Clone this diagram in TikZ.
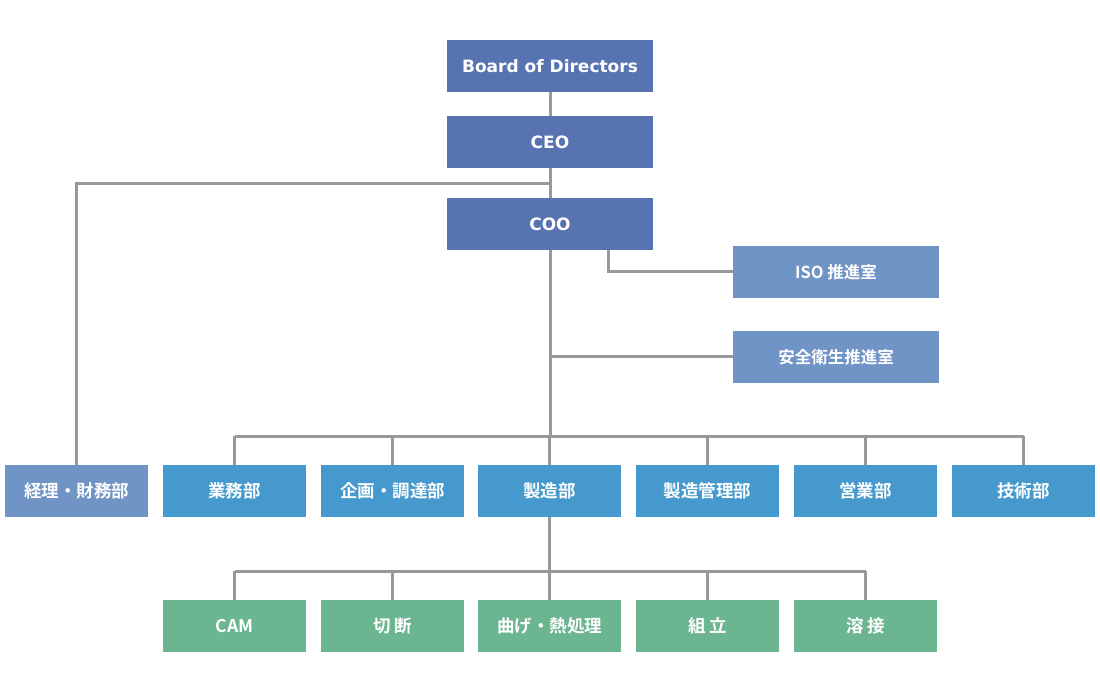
\documentclass[tikz,border=0pt]{standalone}
\usepackage{fontspec}
\setmainfont{DejaVu Sans}
\newfontfamily\jpfont{Noto Sans CJK JP}[BoldFont={Noto Sans CJK JP Bold}]

\definecolor{execblue}{HTML}{5773B2}
\definecolor{officeblue}{HTML}{7094C6}
\definecolor{deptblue}{HTML}{4599CC}
\definecolor{sectgreen}{HTML}{6BB590}
\definecolor{linkgray}{HTML}{999999}

\begin{document}
\begin{tikzpicture}[x=1pt,y=-1pt,
  execbox/.style={fill=execblue,text=white,minimum width=206pt,minimum height=52pt,inner sep=0pt,font=\fontsize{17}{20}\selectfont\bfseries},
  officebox/.style={fill=officeblue,text=white,minimum width=206pt,minimum height=52pt,inner sep=0pt,font=\jpfont\fontsize{16.5}{19}\selectfont\bfseries},
  deptbox/.style={fill=deptblue,text=white,minimum width=143pt,minimum height=52pt,inner sep=0pt,font=\jpfont\fontsize{17.5}{20}\selectfont\bfseries},
  sectbox/.style={fill=sectgreen,text=white,minimum width=143pt,minimum height=52pt,inner sep=0pt,font=\jpfont\fontsize{17.5}{20}\selectfont\bfseries},
  link/.style={draw=linkgray,line width=3pt}]
\useasboundingbox (0,0) rectangle (1100,700);

% Executives
\node[execbox] (board) at (550,66) {Board of Directors};
\node[execbox] (ceo) at (550,142) {CEO};
\node[execbox] (coo) at (550,224) {COO};

% Offices under COO
\node[officebox] (iso) at (836,272) {ISO 推進室};
\node[officebox] (anzen) at (836,357) {安全衛生推進室};

% Departments
\node[deptbox,fill=officeblue] (keiri) at (76.5,491) {経理・財務部};
\node[deptbox] (gyomu) at (234.5,491) {業務部};
\node[deptbox] (kikaku) at (392.5,491) {企画・調達部};
\node[deptbox] (seizo) at (549.5,491) {製造部};
\node[deptbox] (kanri) at (707.5,491) {製造管理部};
\node[deptbox] (eigyo) at (865.5,491) {営業部};
\node[deptbox] (gijutsu) at (1023.5,491) {技術部};

% Sections under manufacturing
\node[sectbox] (cam) at (234.5,626) {CAM};
\node[sectbox] (setsudan) at (392.5,626) {切 断};
\node[sectbox] (mage) at (549.5,626) {曲げ・熱処理};
\node[sectbox] (kumitate) at (707.5,626) {組 立};
\node[sectbox] (yosetsu) at (865.5,626) {溶 接};

% Connectors
\coordinate (staffjoint) at (550,184);
\coordinate (deptbus) at (550,436);
\coordinate (sectbus) at (550,571);

\draw[link] (board.south) -- (ceo.north);
\draw[link] (ceo.south) -- (coo.north);
\draw[link] (staffjoint) -| (keiri.north);
\draw[link] ([xshift=58pt]coo.south) |- (iso.west);
\draw[link] (anzen.west) -- (anzen.west -| coo.south);
\draw[link] (coo.south) -- (deptbus);
\draw[link] (deptbus -| gyomu.north) -- (deptbus -| gijutsu.north);
\foreach \d in {gyomu,kikaku,seizo,kanri,eigyo,gijutsu} {
  \draw[link] (deptbus -| \d.north) -- (\d.north);
}
\draw[link] (seizo.south) -- (sectbus -| seizo.south);
\draw[link] (sectbus -| cam.north) -- (sectbus -| yosetsu.north);
\foreach \s in {cam,setsudan,mage,kumitate,yosetsu} {
  \draw[link] (sectbus -| \s.north) -- (\s.north);
}

\end{tikzpicture}
\end{document}
